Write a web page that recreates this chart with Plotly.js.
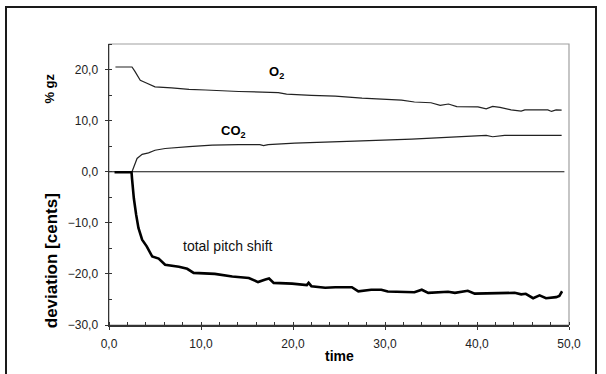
<!DOCTYPE html>
<html>
<head>
<meta charset="utf-8">
<script src="https://cdn.plot.ly/plotly-3.0.1.min.js"></script>
<style>
  html, body { margin: 0; padding: 0; background: #fff; }
  #wrap { position: relative; width: 606px; height: 374px; overflow: hidden; }
  #chart { width: 606px; height: 374px; }
  #frame { position: absolute; left: 5px; top: 6px; width: 592px; height: 400px;
           border: 2px solid #1a1a1a; pointer-events: none; box-sizing: border-box; }
</style>
</head>
<body>
<div id="wrap">
  <div id="chart"></div>
  <div id="frame"></div>
</div>
<script>
// ---- data ----
const zeroX = [0, 49.5];
const zeroY = [0, 0];

const o2X = [0.7, 2.5, 2.8, 3.1, 3.4, 4.0, 5.0, 6.8, 8.7, 10.5, 14.1, 18.4, 19.3, 22.0, 24.6, 27.5, 29.6, 31.8, 33.2, 35.0, 36.0, 36.9, 37.8, 40.1, 41.0, 41.7, 42.5, 43.7, 44.8, 45.2, 47.7, 48.1, 48.6, 49.2];
const o2Y = [20.5, 20.5, 19.7, 18.8, 17.9, 17.4, 16.6, 16.4, 16.1, 16.0, 15.7, 15.5, 15.2, 14.95, 14.8, 14.4, 14.2, 14.0, 13.65, 13.5, 13.0, 13.25, 12.75, 12.7, 12.3, 12.8, 12.6, 12.1, 11.85, 12.1, 12.1, 11.8, 12.1, 12.05];

const co2X = [2.5, 2.8, 3.05, 3.6, 4.3, 5.0, 6.1, 8.7, 11.2, 14.1, 16.4, 16.8, 17.3, 20.2, 24.6, 26.7, 32.9, 35.8, 39.0, 41.0, 41.7, 43.0, 49.2];
const co2Y = [0, 1.3, 2.6, 3.4, 3.7, 4.2, 4.55, 4.9, 5.2, 5.3, 5.3, 5.1, 5.3, 5.6, 5.8, 6.0, 6.4, 6.6, 6.85, 7.1, 6.85, 7.1, 7.1];

const pitchX = [0.6, 2.45, 2.5, 2.7, 2.95, 3.2, 3.6, 4.1, 4.7, 5.4, 6.1, 7.6, 8.5, 9.2, 11.5, 13.4, 15.2, 16.2, 17.0, 17.4, 17.9, 19.9, 21.5, 21.7, 22.0, 23.5, 24.6, 26.4, 27.1, 28.5, 29.6, 30.3, 33.2, 34.0, 34.7, 36.85, 37.6, 39.0, 39.75, 42.3, 44.1, 44.8, 45.3, 46.1, 46.8, 47.5, 48.6, 48.95, 49.25];
const pitchY = [-0.1, -0.1, -1.3, -5.2, -8.4, -11.0, -13.3, -14.6, -16.6, -17.0, -18.2, -18.6, -19.0, -19.8, -20.0, -20.5, -20.8, -21.6, -21.1, -20.9, -21.75, -21.9, -22.2, -21.75, -22.4, -22.7, -22.6, -22.6, -23.4, -23.1, -23.1, -23.45, -23.6, -23.1, -23.7, -23.5, -23.7, -23.3, -23.85, -23.7, -23.7, -24.0, -23.9, -24.75, -24.2, -24.75, -24.55, -24.3, -23.4];

const xTickVals = [0, 10, 20, 30, 40, 50];
const yTickVals = [-30, -20, -10, 0, 10, 20];

const labelO2 = "O<sub>2</sub>";
const labelCO2 = "CO<sub>2</sub>";
const labelPitch = "total pitch shift";
const xTitle = "time";
const yTitle = "deviation [cents]";
const yTitle2 = "% gz";

// ---- chart ----
const FONT = "Liberation Sans, Arial, sans-serif";

const traces = [
  { x: zeroX, y: zeroY, mode: "lines", line: { color: "#111", width: 1.2 }, hoverinfo: "skip" },
  { x: o2X, y: o2Y, mode: "lines", line: { color: "#222", width: 1.2 } },
  { x: co2X, y: co2Y, mode: "lines", line: { color: "#222", width: 1.2 } },
  { x: pitchX, y: pitchY, mode: "lines", line: { color: "#000", width: 2.6 } }
];

const layout = {
  width: 606, height: 374,
  margin: { l: 108.5, r: 36.5, t: 44, b: 48.5 },
  paper_bgcolor: "#fff", plot_bgcolor: "#fff",
  showlegend: false,
  font: { family: FONT, size: 12, color: "#222" },
  xaxis: {
    range: [0, 50], tickvals: xTickVals, tickformat: ".1f",
    ticks: "outside", ticklen: 3, tickcolor: "#333", tickwidth: 1,
    ticklabelstandoff: 4,
    minor: { dtick: 2, ticks: "inside", ticklen: 3, tickcolor: "#333", showgrid: false },
    showline: true, linecolor: "#333", linewidth: 1.5,
    showgrid: false, zeroline: false,
    tickfont: { family: FONT, size: 12, color: "#222" },
    title: { text: "" }
  },
  yaxis: {
    range: [-30, 25], tickvals: yTickVals, tickformat: ".1f",
    ticks: "outside", ticklen: 3, tickcolor: "#333", tickwidth: 1,
    ticklabelstandoff: 4,
    minor: { dtick: 5, ticks: "inside", ticklen: 3, tickcolor: "#333", showgrid: false },
    showline: true, linecolor: "#333", linewidth: 1.5,
    showgrid: false, zeroline: false,
    tickfont: { family: FONT, size: 12, color: "#222" },
    title: { text: "" }
  },
  separators: ",.",
  shapes: [
    { type: "rect", xref: "paper", yref: "paper", x0: 0, x1: 1, y0: 0, y1: 1,
      line: { color: "#a0a0a0", width: 1.2 }, fillcolor: "rgba(0,0,0,0)", layer: "below" }
  ],
  annotations: [
    { x: 18.2, y: 19.5, xref: "x", yref: "y", text: labelO2, showarrow: false,
      font: { family: FONT, size: 13, color: "#000", weight: "bold" }, xanchor: "center", yanchor: "middle" },
    { x: 13.5, y: 7.8, xref: "x", yref: "y", text: labelCO2, showarrow: false,
      font: { family: FONT, size: 13, color: "#000", weight: "bold" }, xanchor: "center", yanchor: "middle" },
    { x: 7.85, y: -14.6, xref: "x", yref: "y", text: labelPitch, showarrow: false,
      font: { family: FONT, size: 14, color: "#111" }, xanchor: "left", yanchor: "middle" },
    { x: 0, y: 0, xref: "paper", yref: "paper", text: "<b>" + xTitle + "</b>", showarrow: false,
      font: { family: FONT, size: 14, color: "#000" }, xanchor: "center", yanchor: "middle" },
    { x: 0, y: 0, xref: "paper", yref: "paper", text: "<b>" + yTitle + "</b>", showarrow: false,
      textangle: -90, font: { family: FONT, size: 17, color: "#000" }, xanchor: "center", yanchor: "middle" },
    { x: 0, y: 0, xref: "paper", yref: "paper", text: "<b>" + yTitle2 + "</b>", showarrow: false,
      textangle: -90, font: { family: FONT, size: 13, color: "#000" }, xanchor: "center", yanchor: "middle" }
  ]
};

// convert pixel positions of the free titles into paper coordinates
const plotW = 606 - layout.margin.l - layout.margin.r;
const plotH = 374 - layout.margin.t - layout.margin.b;
function px2paperX(px) { return (px - layout.margin.l) / plotW; }
function px2paperY(py) { return (374 - layout.margin.b - py) / plotH; }
layout.annotations[3].x = px2paperX(339); layout.annotations[3].y = px2paperY(357);
layout.annotations[4].x = px2paperX(51);  layout.annotations[4].y = px2paperY(261);
layout.annotations[5].x = px2paperX(49);  layout.annotations[5].y = px2paperY(89);

Plotly.newPlot("chart", traces, layout, { displayModeBar: false, staticPlot: true });
</script>
</body>
</html>
